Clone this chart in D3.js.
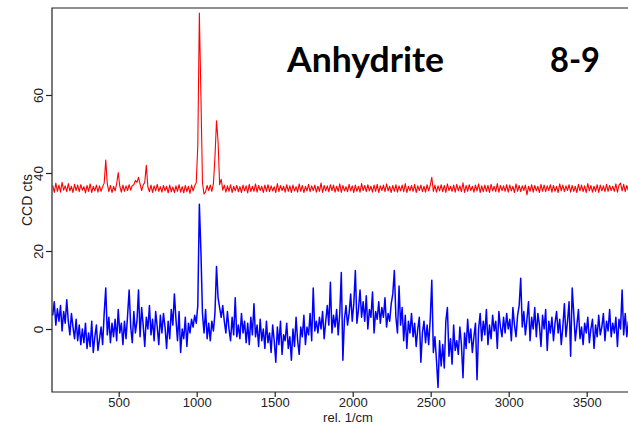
<!DOCTYPE html>
<html>
<head>
<meta charset="utf-8">
<script src="https://cdn.jsdelivr.net/npm/d3@7"></script>
<style>
body { margin: 0; background: #fff; }
</style>
</head>
<body>
<div id="chart"></div>
<script>
// wavenumber grid: first point and spacing (rel. 1/cm)
var startWn = 77, stepWn = 10;

// upper (red) spectrum, CCD counts, one row = 100 1/cm
var redCounts = [
    36.8, 35.0, 37.4, 35.3, 36.9, 35.1, 37.6, 35.6, 36.7, 35.2,
    37.3, 35.4, 36.6, 35.0, 37.1, 35.5, 36.9, 35.2, 37.0, 35.6,
    36.5, 34.9, 36.8, 35.3, 37.2, 35.0, 36.6, 35.4, 36.9, 35.1,
    36.7, 35.3, 36.5, 37.4, 43.3, 37.2, 35.2, 36.8, 35.0, 36.6,
    35.4, 37.3, 40.1, 36.6, 35.1, 36.9, 35.3, 36.7, 35.5, 37.0,
    35.6, 36.8, 37.0, 38.1, 37.6, 38.9, 37.2, 35.5, 36.9, 37.6,
    42.0, 36.4, 35.2, 36.9, 35.0, 36.7, 35.4, 37.1, 35.3, 36.5,
    35.1, 36.8, 35.4, 36.6, 34.9, 36.9, 35.2, 36.4, 35.0, 36.7,
    35.3, 37.0, 35.1, 36.5, 34.9, 36.8, 35.2, 36.6, 34.8, 36.9,
    35.4, 36.7, 37.5, 47.0, 81.0, 60.0, 37.5, 34.6, 35.2, 36.8,
    35.5, 36.9, 35.3, 37.2, 44.0, 53.4, 48.0, 37.0, 38.4, 35.6,
    36.9, 35.1, 36.7, 35.3, 37.0, 35.0, 36.6, 35.4, 36.8, 35.2,
    36.5, 35.0, 36.9, 35.4, 36.7, 34.9, 37.1, 35.2, 36.6, 35.3,
    37.2, 35.1, 36.8, 35.5, 36.6, 35.0, 36.9, 35.3, 37.0, 35.2,
    36.7, 35.4, 36.5, 35.0, 37.3, 35.2, 36.8, 35.5, 36.6, 35.1,
    37.0, 35.3, 36.7, 35.0, 36.9, 35.4, 36.5, 35.1, 37.2, 35.3,
    36.8, 35.0, 36.6, 35.4, 37.1, 35.2, 36.7, 35.5, 36.9, 35.1,
    36.6, 35.3, 37.4, 35.0, 36.8, 35.4, 36.7, 35.2, 37.0, 35.5,
    36.9, 35.1, 36.6, 35.3, 37.2, 35.0, 36.8, 35.4, 36.5, 35.2,
    37.1, 35.4, 36.7, 35.0, 36.9, 35.3, 36.6, 35.1, 37.3, 35.5,
    36.8, 35.2, 37.0, 35.4, 36.6, 35.1, 36.9, 35.3, 37.1, 35.0,
    36.7, 35.5, 36.9, 35.2, 37.2, 35.4, 36.6, 35.0, 36.8, 35.3,
    37.0, 35.1, 36.7, 35.4, 36.9, 35.2, 37.3, 35.0, 36.6, 35.4,
    36.8, 35.3, 37.1, 35.0, 36.7, 35.5, 36.9, 35.2, 36.6, 35.1,
    37.0, 35.4, 36.8, 38.9, 35.3, 36.9, 35.1, 36.7, 35.4, 37.0,
    35.2, 36.8, 35.0, 37.2, 35.5, 36.6, 35.3, 36.9, 35.1, 37.1,
    35.4, 36.7, 35.2, 37.5, 35.0, 36.8, 35.3, 37.0, 35.5, 36.6,
    35.1, 36.9, 35.4, 37.2, 35.0, 36.7, 35.2, 36.9, 35.3, 36.8,
    35.0, 37.1, 35.4, 36.6, 35.2, 37.3, 35.1, 36.8, 35.5, 36.7,
    35.3, 37.0, 35.1, 36.9, 35.4, 36.6, 35.0, 37.2, 35.3, 36.8,
    35.2, 36.7, 35.5, 36.9, 34.4, 36.6, 35.3, 37.0, 35.1, 36.8,
    35.4, 36.6, 35.0, 37.1, 35.3, 36.9, 35.2, 36.7, 35.5, 37.0,
    35.1, 36.8, 35.3, 36.6, 35.0, 37.2, 35.4, 36.9, 35.2, 36.7,
    35.5, 37.0, 35.1, 36.8, 35.3, 36.6, 35.0, 37.1, 35.4, 36.9,
    35.2, 36.7, 35.0, 37.3, 35.4, 36.8, 35.1, 36.6, 35.3, 37.0,
    35.0, 36.9, 35.4, 36.7, 35.2, 37.1, 35.3, 36.8, 35.5, 36.6,
    35.3, 37.2, 35.1, 36.9, 37.4, 35.4, 37.1, 35.2, 36.8, 35.5
];

// lower (blue) spectrum, CCD counts
var blueCounts = [
    3.5, 7.0, 1.0, 5.2, 2.0, 6.0, -0.5, 4.5, 1.5, 7.5,
    2.0, -1.5, 4.0, 0.5, -2.5, 2.5, -3.0, 1.0, -4.0, 0.0,
    -3.5, 1.5, -5.0, -1.0, -4.5, 2.0, -6.0, -2.0, 1.0, -5.5,
    -2.5, 0.5, -4.0, 4.0, 10.5, -1.5, 3.0, -3.5, 1.5, -2.0,
    2.5, -3.0, 5.0, -1.0, 1.5, -4.0, 2.0, -2.5, 3.5, 10.0,
    0.5, -3.5, 4.5, -1.0, 2.0, 10.0, -2.0, 5.5, 1.0, -4.5,
    3.0, 0.0, 6.0, -1.5, 2.5, -3.0, 4.5, 0.5, -4.0, 3.5,
    -1.0, 4.0, 0.5, -5.0, 2.0, -2.5, 5.0, 1.0, 9.0, 2.5,
    -3.0, 4.5, -6.0, 0.0, -2.5, 3.0, -4.5, 1.5, -1.0, 2.5,
    0.5, 3.5, 1.5, 6.0, 32.0, 20.0, 4.0, -1.0, 5.0, -2.5,
    1.5, -3.0, 2.0, -0.5, 4.0, 16.0, 8.0, 5.5, 3.0, 6.0,
    2.0, -1.0, 4.5, 0.0, -3.0, 3.0, -1.5, 8.0, -2.0, 1.0,
    -2.5, 4.0, -1.0, 2.0, -3.5, 1.5, -4.0, 3.0, -1.5, 6.5,
    -2.0, 1.0, -4.5, 2.5, -3.0, 0.0, -5.0, 2.0, -3.5, -1.0,
    -6.0, 1.0, -3.0, -8.5, 0.5, -4.0, 2.0, -6.5, -1.5, -3.0,
    1.5, -5.0, -2.0, -8.0, 0.0, -4.5, 3.0, -3.0, -6.5, 0.5,
    -2.0, 3.5, -4.0, 0.5, -1.5, 4.0, -3.0, 10.5, -0.5, 2.0,
    -1.0, 3.0, 0.0, 4.5, -2.5, 2.0, 6.0, 1.0, 12.0, -1.0,
    3.5, 0.5, 5.0, -1.5, 4.0, 14.5, -8.0, 2.5, 6.0, 1.0,
    4.0, 9.0, 2.0, 6.5, 15.0, 1.5, 5.0, 10.0, 3.0, 7.0,
    2.0, 8.5, 0.0, 5.0, 3.0, 9.5, -1.0, 4.5, 2.5, 7.0,
    1.5, 5.5, 3.0, 8.0, 0.5, 4.0, 2.0, 6.5, 9.0, 15.0,
    3.0, -1.0, 11.0, 1.0, 5.5, -3.0, 3.5, -5.0, 2.0, -1.0,
    4.0, -2.0, 1.5, -4.5, 0.0, 3.0, -8.5, -1.0, 2.0, -3.5,
    1.0, -4.0, 2.5, 12.5, -6.0, -2.0, -8.0, -15.0, -3.0, -9.5,
    -4.0, -10.0, 2.0, 5.5, -7.0, -2.5, -9.0, 1.0, -5.5, -3.0,
    -6.5, 0.5, -4.0, -12.5, -1.0, -5.0, 2.5, -3.5, 0.0, -6.0,
    -2.0, 1.5, -13.0, 0.0, 4.0, -3.0, 2.0, -1.5, 5.0, -4.0,
    1.0, -2.5, 3.5, -0.5, 2.0, -5.0, 4.5, 0.5, -2.0, 3.0,
    -1.0, 4.0, 0.0, 2.5, -3.0, 5.5, 1.0, -2.0, 3.5, 6.0,
    13.0, 0.5, 4.5, -1.5, 2.5, 7.0, -3.0, 3.0, 0.0, 5.5,
    -2.0, 4.0, 1.0, -4.5, 3.5, 0.0, 5.0, -5.5, 2.0, -1.0,
    3.0, -3.0, 1.5, 4.5, -1.0, 2.5, -4.0, 0.5, 6.5, -2.0,
    2.0, 7.0, -7.0, 10.5, 4.0, -3.0, 1.0, 5.0, -2.5, 0.5,
    -4.0, 1.5, -1.0, 3.0, -3.5, 0.0, 2.5, -5.0, 1.0, -2.0,
    3.5, -1.5, 0.5, 4.0, -3.0, 2.0, -0.5, 5.0, -2.0, 1.5,
    -1.0, 3.0, -4.5, 2.5, 0.0, 10.0, -1.5, 4.0, -2.0, 2.0
];

var xTicks = [500, 1000, 1500, 2000, 2500, 3000, 3500];
var yTicks = [0, 20, 40, 60];
var mineral = "Anhydrite";
var sampleId = "8-9";

var width = 628, height = 424;
var plotLeft = 52, plotTop = 8, plotBottom = 392, plotRight = 645;

var svg = d3.select("#chart")
    .append("svg")
    .attr("width", width)
    .attr("height", height);

var xScale = d3.scaleLinear()
    .domain([0, 4000])
    .range([40.7, 40.7 + 624]);

var yScale = d3.scaleLinear()
    .domain([0, 60])
    .range([329, 95]);

function toPoints(counts) {
    return counts.map(function (c, i) {
        return { wn: startWn + i * stepWn, value: c };
    });
}

svg.append("clipPath")
    .attr("id", "plot-clip")
    .append("rect")
    .attr("x", plotLeft)
    .attr("y", plotTop)
    .attr("width", plotRight - plotLeft)
    .attr("height", plotBottom - plotTop);

var line = d3.line()
    .x(function (d) { return xScale(d.wn); })
    .y(function (d) { return yScale(d.value); });

svg.append("path")
    .datum(toPoints(blueCounts))
    .attr("d", line)
    .attr("clip-path", "url(#plot-clip)")
    .attr("stroke", "#0000ff")
    .attr("stroke-width", 1.5)
    .attr("stroke-linejoin", "round")
    .attr("fill", "none");

svg.append("path")
    .datum(toPoints(redCounts))
    .attr("d", line)
    .attr("clip-path", "url(#plot-clip)")
    .attr("stroke", "#ff0000")
    .attr("stroke-width", 1.1)
    .attr("stroke-linejoin", "round")
    .attr("fill", "none");

// box (right side runs off the picture)
svg.append("path")
    .attr("d", "M" + plotRight + "," + plotTop + "H" + plotLeft + "V" + plotBottom + "H" + plotRight)
    .attr("stroke", "#222")
    .attr("stroke-width", 1.2)
    .attr("fill", "none");

// x axis
var xAxis = d3.axisBottom(xScale)
    .tickValues(xTicks)
    .tickSize(5)
    .tickPadding(1)
    .tickFormat(d3.format("d"));

var gx = svg.append("g")
    .attr("transform", "translate(0," + plotBottom + ")")
    .call(xAxis);
gx.select(".domain").remove();
gx.selectAll("line").attr("stroke", "#222").attr("stroke-width", 1.2);
gx.selectAll("text")
    .attr("font-family", "Liberation Sans, Arial, sans-serif")
    .attr("font-size", 13)
    .attr("fill", "#222");

// y axis, labels turned like R
var yAxis = d3.axisLeft(yScale)
    .tickValues(yTicks)
    .tickSize(6)
    .tickFormat(d3.format("d"));

var gy = svg.append("g")
    .attr("transform", "translate(" + plotLeft + ",0)")
    .call(yAxis);
gy.select(".domain").remove();
gy.selectAll("line").attr("stroke", "#222").attr("stroke-width", 1.2);
gy.selectAll("text")
    .attr("x", null)
    .attr("dy", null)
    .attr("transform", "translate(-9,0) rotate(-90)")
    .attr("text-anchor", "middle")
    .attr("font-family", "Liberation Sans, Arial, sans-serif")
    .attr("font-size", 13.5)
    .attr("fill", "#222");

svg.append("text")
    .attr("transform", "translate(32," + ((plotTop + plotBottom) / 2) + ") rotate(-90)")
    .attr("text-anchor", "middle")
    .attr("font-family", "Liberation Sans, Arial, sans-serif")
    .attr("font-size", 14)
    .attr("fill", "#222")
    .text("CCD cts");

svg.append("text")
    .attr("x", 348)
    .attr("y", 422)
    .attr("text-anchor", "middle")
    .attr("font-family", "Liberation Sans, Arial, sans-serif")
    .attr("font-size", 13)
    .attr("fill", "#222")
    .text("rel. 1/cm");

// sample caption
svg.append("text")
    .attr("x", 287)
    .attr("y", 72)
    .attr("font-family", "Lato, sans-serif")
    .attr("font-weight", "bold")
    .attr("font-size", 34)
    .attr("textLength", 157)
    .attr("lengthAdjust", "spacingAndGlyphs")
    .attr("fill", "#000")
    .text(mineral);

svg.append("text")
    .attr("x", 550)
    .attr("y", 72)
    .attr("font-family", "Lato, sans-serif")
    .attr("font-weight", "bold")
    .attr("font-size", 34)
    .attr("textLength", 50)
    .attr("lengthAdjust", "spacingAndGlyphs")
    .attr("fill", "#000")
    .text(sampleId);
</script>
</body>
</html>
